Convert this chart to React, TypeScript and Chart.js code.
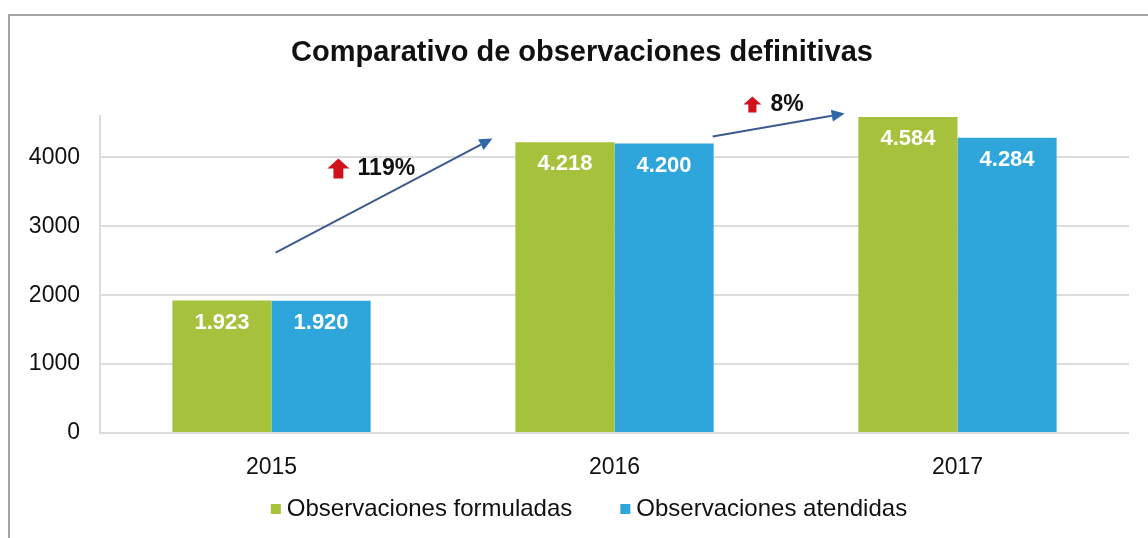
import React, { useEffect, useRef } from "react";
import { Chart, registerables } from "chart.js";

Chart.register(...registerables);

const TITLE = "Comparativo de observaciones definitivas";
const categories = ["2015", "2016", "2017"];
const seriesNames = ["Observaciones formuladas", "Observaciones atendidas"];
const formuladas = [1923, 4218, 4584];
const atendidas = [1920, 4200, 4284];
const yTickValues = [0, 1000, 2000, 3000, 4000];
const growthLabels = ["119%", "8%"];

const GREEN = "#a6c23c";
const BLUE = "#2ea6dc";
const FONT = "'Liberation Sans', Arial, sans-serif";

function fmt(v: number) {
  return String(v).replace(/\B(?=(\d{3})+(?!\d))/g, ".");
}

function drawArrowLine(ctx: CanvasRenderingContext2D, x1: number, y1: number, x2: number, y2: number) {
  const ang = Math.atan2(y2 - y1, x2 - x1);
  const headLen = 13;
  const headW = 6;
  const bx = x2 - headLen * Math.cos(ang);
  const by = y2 - headLen * Math.sin(ang);
  ctx.save();
  ctx.strokeStyle = "#3b5b8f";
  ctx.lineWidth = 2;
  ctx.beginPath();
  ctx.moveTo(x1, y1);
  ctx.lineTo(bx, by);
  ctx.stroke();
  ctx.fillStyle = "#2f67a8";
  ctx.beginPath();
  ctx.moveTo(x2, y2);
  ctx.lineTo(bx + headW * Math.sin(ang), by - headW * Math.cos(ang));
  ctx.lineTo(bx - headW * Math.sin(ang), by + headW * Math.cos(ang));
  ctx.closePath();
  ctx.fill();
  ctx.restore();
}

function drawUpIcon(ctx: CanvasRenderingContext2D, cx: number, cy: number, w: number, h: number) {
  ctx.save();
  ctx.fillStyle = "#d0121b";
  const top = cy - h / 2;
  const headH = h * 0.5;
  const shaftW = w * 0.45;
  ctx.beginPath();
  ctx.moveTo(cx, top);
  ctx.lineTo(cx + w / 2, top + headH);
  ctx.lineTo(cx + shaftW / 2, top + headH);
  ctx.lineTo(cx + shaftW / 2, top + h);
  ctx.lineTo(cx - shaftW / 2, top + h);
  ctx.lineTo(cx - shaftW / 2, top + headH);
  ctx.lineTo(cx - w / 2, top + headH);
  ctx.closePath();
  ctx.fill();
  ctx.restore();
}

const decorPlugin = {
  id: "decor",
  beforeDraw(chart: any) {
    const ctx = chart.ctx as CanvasRenderingContext2D;
    ctx.save();
    ctx.fillStyle = "#ffffff";
    ctx.fillRect(0, 0, chart.width, chart.height);
    ctx.strokeStyle = "#a3a3a3";
    ctx.lineWidth = 2;
    ctx.beginPath();
    ctx.moveTo(9, chart.height);
    ctx.lineTo(9, 15);
    ctx.lineTo(chart.width, 15);
    ctx.stroke();
    ctx.restore();
  },
  afterDraw(chart: any) {
    const ctx = chart.ctx as CanvasRenderingContext2D;
    const xs = chart.scales.x;
    const ys = chart.scales.y;

    // title
    ctx.save();
    ctx.fillStyle = "#111111";
    ctx.font = `bold 29px ${FONT}`;
    ctx.textAlign = "center";
    ctx.textBaseline = "middle";
    ctx.fillText(TITLE, 582, 53);
    ctx.restore();

    // data labels
    ctx.save();
    ctx.fillStyle = "#ffffff";
    ctx.font = `bold 22px ${FONT}`;
    ctx.textAlign = "center";
    ctx.textBaseline = "middle";
    chart.data.datasets.forEach((ds: any, di: number) => {
      const meta = chart.getDatasetMeta(di);
      meta.data.forEach((bar: any, i: number) => {
        ctx.fillText(fmt(ds.data[i]), bar.x, bar.y + 22);
      });
    });
    ctx.restore();

    // growth arrows
    drawArrowLine(ctx, xs.getPixelForValue(0.012), ys.getPixelForValue(2616), xs.getPixelForValue(0.644), ys.getPixelForValue(4273));
    drawArrowLine(ctx, xs.getPixelForValue(1.286), ys.getPixelForValue(4302), xs.getPixelForValue(1.671), ys.getPixelForValue(4637));

    // growth labels
    ctx.save();
    ctx.fillStyle = "#111111";
    ctx.font = `bold 23px ${FONT}`;
    ctx.textAlign = "left";
    ctx.textBaseline = "middle";
    drawUpIcon(ctx, xs.getPixelForValue(0.195), ys.getPixelForValue(3837), 22, 20);
    ctx.fillText(growthLabels[0], xs.getPixelForValue(0.251), ys.getPixelForValue(3837));
    drawUpIcon(ctx, xs.getPixelForValue(1.402), ys.getPixelForValue(4767), 18, 16);
    ctx.fillText(growthLabels[1], xs.getPixelForValue(1.455), ys.getPixelForValue(4767));
    ctx.restore();

    // legend
    ctx.save();
    ctx.font = `24px ${FONT}`;
    ctx.textBaseline = "middle";
    ctx.textAlign = "left";
    const ly = 509;
    const colors = [GREEN, BLUE];
    const box = 10;
    const gapBoxText = 6;
    const gapItems = 48;
    const widths = seriesNames.map((n) => box + gapBoxText + ctx.measureText(n).width);
    const total = widths.reduce((a, b) => a + b, 0) + gapItems;
    let lx = 589 - total / 2;
    seriesNames.forEach((n, i) => {
      ctx.fillStyle = colors[i];
      ctx.fillRect(lx, ly - box / 2, box, box);
      ctx.fillStyle = "#111111";
      ctx.fillText(n, lx + box + gapBoxText, ly);
      lx += widths[i] + gapItems;
    });
    ctx.restore();
  },
};

export default function App() {
  const ref = useRef<HTMLCanvasElement | null>(null);
  useEffect(() => {
    document.body.style.margin = "0";
    const canvas = ref.current!;
    const chart = new Chart(canvas, {
      type: "bar",
      data: {
        labels: categories,
        datasets: [
          { label: seriesNames[0], data: formuladas, backgroundColor: GREEN, borderWidth: 0 },
          { label: seriesNames[1], data: atendidas, backgroundColor: BLUE, borderWidth: 0 },
        ],
      },
      options: {
        animation: false,
        responsive: false,
        maintainAspectRatio: false,
        layout: { padding: { top: 116, right: 19, left: 0, bottom: 0 } },
        datasets: { bar: { categoryPercentage: 0.578, barPercentage: 1 } },
        plugins: {
          legend: { display: false },
          title: { display: false },
          tooltip: { enabled: false },
        },
        scales: {
          x: {
            grid: { display: false, drawTicks: false },
            border: { display: false },
            ticks: { color: "#111111", font: { family: FONT, size: 23 }, padding: 21 },
            afterFit: (s: any) => {
              s.height = 105;
            },
          },
          y: {
            min: 0,
            max: 4600,
            afterBuildTicks: (s: any) => {
              s.ticks = yTickValues.map((v) => ({ value: v }));
            },
            grid: { color: "#dcdcdc", lineWidth: 2, drawTicks: false },
            border: { display: true, color: "#dcdcdc", width: 2 },
            ticks: {
              color: "#111111",
              font: { family: FONT, size: 23 },
              padding: 20,
              callback: (v: any) => String(v),
            },
            afterFit: (s: any) => {
              s.width = 100;
            },
          },
        },
      },
      plugins: [decorPlugin],
    } as any);
    return () => chart.destroy();
  }, []);
  return (
    <div style={{ position: "absolute", left: 0, top: 0, width: 1148, height: 538 }}>
      <canvas ref={ref} width={1148} height={538} style={{ width: 1148, height: 538, display: "block" }} />
    </div>
  );
}
